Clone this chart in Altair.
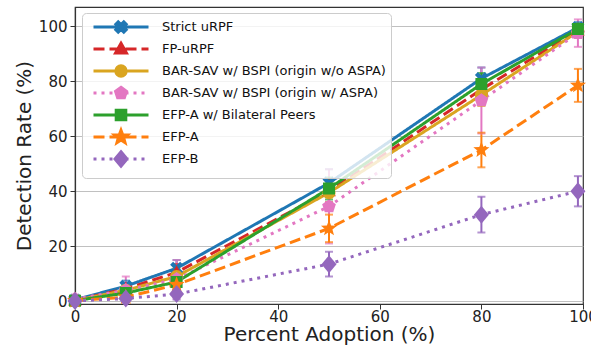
import math
import json
import altair as alt
import pandas as pd

# ---- data ----
series = [
    "Strict uRPF",
    "FP-uRPF",
    "BAR-SAV w/ BSPI (origin w/o ASPA)",
    "BAR-SAV w/ BSPI (origin w/ ASPA)",
    "EFP-A w/ Bilateral Peers",
    "EFP-A",
    "EFP-B",
]
x_vals = [0, 10, 20, 50, 80, 99]

strict_urpf = [0.5, 5.5, 12.0, 43.0, 81.0, 99.5]
fp_urpf = [0.3, 4.5, 10.5, 40.0, 77.0, 98.5]
bar_noaspa = [0.3, 4.0, 9.0, 39.5, 75.0, 98.0]
bar_aspa = [0.8, 4.0, 8.0, 34.5, 73.0, 97.5]
efpa_bp = [0.2, 3.0, 7.0, 41.0, 79.0, 99.0]
efpa = [0.2, 1.5, 6.0, 26.5, 55.0, 78.5]
efpb = [0.1, 1.0, 2.6, 13.5, 31.5, 40.0]

strict_urpf_err = [0.5, 2.0, 3.0, 5.0, 4.0, 2.0]
fp_urpf_err = [0.3, 2.0, 3.0, 4.0, 4.0, 2.0]
bar_noaspa_err = [0.3, 2.0, 3.0, 4.0, 4.0, 2.0]
bar_aspa_err = [0.5, 5.0, 7.0, 13.5, 12.0, 5.0]
efpa_bp_err = [0.3, 2.0, 3.0, 4.0, 4.0, 2.0]
efpa_err = [0.3, 1.5, 3.0, 5.0, 6.3, 6.0]
efpb_err = [0.2, 1.0, 2.0, 4.5, 6.5, 5.5]

colors = ["#1f77b4", "#d62728", "#daa520", "#e377c2", "#2ca02c", "#ff7f0e", "#9467bd"]
styles = ["solid", "dashed", "solid", "dotted", "solid", "dashed", "dotted"]

values = [strict_urpf, fp_urpf, bar_noaspa, bar_aspa, efpa_bp, efpa, efpb]
errors = [strict_urpf_err, fp_urpf_err, bar_noaspa_err, bar_aspa_err,
          efpa_bp_err, efpa_err, efpb_err]

rows = []
for s, ys, es in zip(series, values, errors):
    for xv, yv, ev in zip(x_vals, ys, es):
        rows.append({"series": s, "x": xv, "y": yv,
                     "lo": max(yv - ev, 0), "hi": yv + ev})
df = pd.DataFrame(rows)

# ---- marker shapes (unit box) ----
def poly(pts):
    return "M" + "L".join(f"{px:.3f},{py:.3f}" for px, py in pts) + "Z"

def star(ro, ri):
    pts = []
    for k in range(10):
        a = math.radians(-90 + 36 * k)
        r = ro if k % 2 == 0 else ri
        pts.append((r * math.cos(a), r * math.sin(a)))
    return poly(pts)

def pentagon(r):
    return poly([(r * math.cos(math.radians(-90 + 72 * k)),
                  r * math.sin(math.radians(-90 + 72 * k))) for k in range(5)])

def xshape(e, w):
    return poly([(-e, -e + w), (-e + w, -e), (0, -w), (e - w, -e), (e, -e + w), (w, 0),
                 (e, e - w), (e - w, e), (0, w), (-e + w, e), (-e, e - w), (-w, 0)])

def circle(r):
    return f"M{r:.3f},0A{r:.3f},{r:.3f} 0 1,1 {-r:.3f},0A{r:.3f},{r:.3f} 0 1,1 {r:.3f},0Z"

def markers(s):
    return [
        xshape(0.65 * s, 0.3 * s),
        poly([(0, -0.72 * s), (0.68 * s, 0.5 * s), (-0.68 * s, 0.5 * s)]),
        circle(0.65 * s),
        pentagon(0.72 * s),
        poly([(-0.6 * s, -0.6 * s), (0.6 * s, -0.6 * s), (0.6 * s, 0.6 * s), (-0.6 * s, 0.6 * s)]),
        star(0.85 * s, 0.36 * s),
        poly([(0, -0.9 * s), (0.75 * s, 0), (0, 0.9 * s), (-0.75 * s, 0)]),
    ]

plot_shapes = markers(1.0)   # unit = 10 px at size 400

# legend glyphs: line handle (with dash pattern) + marker, unit = 7.5 px at size 225
LEG_SIZE = 225
u = math.sqrt(LEG_SIZE) / 2
L = 27.5 / u
B = 6.5 / u  # equal vertical extent for every glyph (zero-length, not drawn)

def handle(style):
    if style == "solid":
        return f"M{-L:.3f},0H{L:.3f}"
    if style == "dashed":
        dash, gap = 11 / u, 5 / u
    else:
        dash, gap = 3 / u, 5 / u
    segs, p = [], -L
    while p < L:
        e = min(p + dash, L)
        segs.append(f"M{p:.3f},0H{e:.3f}")
        p = e + gap
    return "".join(segs)

bound = f"M0,{-B:.3f}L0,{-B:.3f}M0,{B:.3f}L0,{B:.3f}"
legend_shapes = [bound + handle(st) + m for st, m in zip(styles, markers(0.8 * 10 / u))]

dash_map = {"solid": [1, 0], "dashed": [11, 5], "dotted": [3, 5]}
dashes = [dash_map[st] for st in styles]

color_expr = (f"{json.dumps(colors)}[indexof({json.dumps(series)}, "
              f"datum && datum.value)]")

# ---- chart ----
xs = alt.X("x:Q", scale=alt.Scale(domain=[0, 100], nice=False),
           axis=alt.Axis(values=[0, 20, 40, 60, 80, 100], grid=False, labelFlush=False,
                         title="Percent Adoption (%)"))
ys = alt.Y("y:Q", scale=alt.Scale(domain=[-1, 107], nice=False, zero=False),
           axis=alt.Axis(values=[0, 20, 40, 60, 80, 100], grid=True, labelFlush=False,
                         title="Detection Rate (%)"))
col = alt.Color("series:N", scale=alt.Scale(domain=series, range=colors), legend=None)

base = alt.Chart(df)

lines = base.mark_line(strokeWidth=3).encode(
    x=xs, y=ys, color=col,
    strokeDash=alt.StrokeDash("series:N", scale=alt.Scale(domain=series, range=dashes),
                              legend=None),
    order=alt.Order("x:Q"),
)

err_rules = base.mark_rule(strokeWidth=2).encode(
    x="x:Q", y="lo:Q", y2="hi:Q", color=col)
caps_lo = base.mark_tick(orient="horizontal", size=8, thickness=2).encode(
    x="x:Q", y="lo:Q", color=col)
caps_hi = base.mark_tick(orient="horizontal", size=8, thickness=2).encode(
    x="x:Q", y="hi:Q", color=col)

points = base.mark_point(filled=True, size=400, opacity=1, strokeWidth=0.5).encode(
    x="x:Q", y="y:Q", color=col,
    shape=alt.Shape("series:N", scale=alt.Scale(domain=series, range=plot_shapes),
                    legend=None),
)

legend_layer = base.transform_filter("false").mark_point(
    filled=True, size=LEG_SIZE, strokeWidth=3, opacity=1,
    fill=alt.ExprRef(color_expr), stroke=alt.ExprRef(color_expr),
).encode(
    x="x:Q", y="y:Q",
    shape=alt.Shape(
        "series:N", scale=alt.Scale(domain=series, range=legend_shapes),
        legend=alt.Legend(title=None, symbolStrokeWidth=3, symbolOpacity=1),
    ),
)

chart = alt.layer(lines, err_rules, caps_lo, caps_hi, points, legend_layer).resolve_scale(
    shape="independent"
).properties(
    width=508, height=297,
    autosize=alt.AutoSizeParams(type="none"),
    padding={"left": 75, "top": 7, "right": 8, "bottom": 45},
).configure(
    font="DejaVu Sans",
).configure_view(
    stroke="#333333", strokeWidth=1.2,
).configure_axis(
    labelFont="DejaVu Sans", titleFont="DejaVu Sans",
    labelFontSize=15, titleFontSize=20, titleFontWeight="normal",
    labelColor="#222222", titleColor="#222222",
    domainColor="#333333", domainWidth=1.2,
    tickColor="#333333", tickSize=5, tickWidth=1,
    gridColor="#b0b0b0", gridWidth=0.8,
).configure_axisY(
    titlePadding=4, labelPadding=3,
).configure_axisX(
    titlePadding=0, labelPadding=0,
).configure_legend(
    orient="none", legendX=7, legendY=6,
    padding=5, rowPadding=-6,
    symbolSize=LEG_SIZE, symbolOffset=25, labelOffset=32,
    labelFont="DejaVu Sans", labelFontSize=13, labelColor="#111111",
    fillColor="rgba(255,255,255,0.8)", strokeColor="#cccccc", cornerRadius=4,
    labelLimit=400,
)

chart.save("out.html", embed_options={"renderer": "svg", "actions": False})
